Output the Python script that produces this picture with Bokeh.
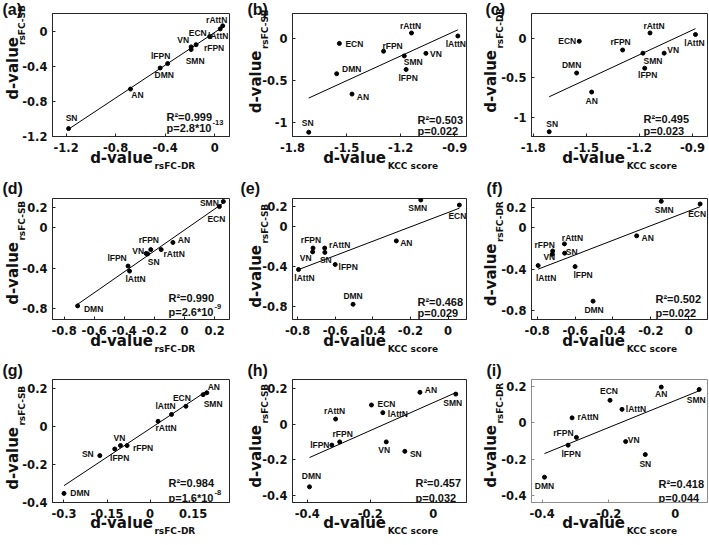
import math
import numpy as np
from bokeh.plotting import figure
from bokeh.models import ColumnDataSource, Label, FixedTicker, Range1d, LinearAxis, Title
from bokeh.layouts import gridplot
from bokeh.core.properties import value
from bokeh.embed import file_html
from bokeh.resources import INLINE

# ---------------- data ----------------
networks = ["SN", "AN", "DMN", "lFPN", "VN", "SMN", "rFPN", "ECN", "lAttN", "rAttN"]

# group 1 (panels a-c)
sb_1 = [-1.11, -0.66, -0.42, -0.37, -0.18, -0.21, -0.155, -0.063, 0.025, 0.06]
dr_1 = [-1.18, -0.68, -0.44, -0.38, -0.19, -0.19, -0.15, -0.04, 0.045, 0.065]
kcc_1 = [-1.71, -1.47, -1.555, -1.17, -1.06, -1.18, -1.295, -1.54, -0.883, -1.14]

# group 2 (panels d-f)
sb_2 = [-0.26, -0.146, -0.775, -0.38, -0.255, 0.26, -0.217, 0.21, -0.43, -0.217]
dr_2 = [-0.245, -0.077, -0.71, -0.375, -0.255, 0.258, -0.224, 0.232, -0.365, -0.155]
kcc_2 = [-0.655, -0.275, -0.505, -0.60, -0.72, -0.145, -0.718, 0.06, -0.795, -0.656]

# group 3 (panels g-i)
sb_3 = [-0.153, 0.178, -0.352, -0.118, -0.10, 0.168, -0.10, 0.107, 0.064, 0.028]
dr_3 = [-0.175, 0.198, -0.30, -0.123, -0.103, 0.185, -0.08, 0.125, 0.075, 0.028]
kcc_3 = [-0.09, -0.042, -0.393, -0.322, -0.149, 0.072, -0.297, -0.196, -0.16, -0.31]

panel_letters = ["(a)", "(b)", "(c)", "(d)", "(e)", "(f)", "(g)", "(h)", "(i)"]
r2_values = ["0.999", "0.503", "0.495", "0.990", "0.468", "0.502", "0.984", "0.457", "0.418"]
p_values = ["2.8*10", "0.022", "0.023", "2.6*10", "0.029", "0.022", "1.6*10", "0.032", "0.044"]
p_exponents = ["-13", "", "", "-9", "", "", "-8", "", ""]

x_ticks_a = [-1.2, -0.8, -0.4, 0]
x_tick_labels_a = ["-1.2", "-0.8", "-0.4", "0"]
y_ticks_a = [-1.2, -0.8, -0.4, 0]
y_tick_labels_a = ["-1.2", "-0.8", "-0.4", "0"]
x_ticks_kcc1 = [-1.8, -1.5, -1.2, -0.9]
x_tick_labels_kcc1 = ["-1.8", "-1.5", "-1.2", "-0.9"]
y_ticks_bc = [-1, -0.5, 0]
y_tick_labels_bc = ["-1", "-0.5", "0"]
x_ticks_d = [-0.8, -0.6, -0.4, -0.2, 0, 0.2]
x_tick_labels_d = ["-0.8", "-0.6", "-0.4", "-0.2", "0", "0.2"]
y_ticks_def = [-0.8, -0.4, 0, 0.2]
y_tick_labels_def = ["-0.8", "-0.4", "0", "0.2"]
x_ticks_kcc2 = [-0.8, -0.6, -0.4, -0.2, 0]
x_tick_labels_kcc2 = ["-0.8", "-0.6", "-0.4", "-0.2", "0"]
x_ticks_g = [-0.3, -0.15, 0, 0.15]
x_tick_labels_g = ["-0.3", "-0.15", "0", "0.15"]
y_ticks_ghi = [-0.4, -0.2, 0, 0.2]
y_tick_labels_ghi = ["-0.4", "-0.2", "0", "0.2"]
x_ticks_kcc3 = [-0.4, -0.2, 0]
x_tick_labels_kcc3 = ["-0.4", "-0.2", "0"]

# ---------------- layout (page pixels) ----------------
CELL_X = [0, 236, 470, 708]
BL = [52, 56, 61]
FW = [177, 174, 176]
CELL_Y = [0, 179, 362, 544]
BT = [13, 19, 17]
FH = [123, 121, 123]
LETTER_STANDOFF = [-8, -1, -3]

TICK_FONT = "DejaVu Sans"
AX_FONT = "DejaVu Sans"
LBL_FONT = "Liberation Sans"
TICK_SIZE = 11.5
AX_MAIN = 15
AX_SUB = 9
HGT, ASC, DSC = 1.164, 0.928, 0.236     # DejaVu Sans line box / ascent / descent (em)
PAD = 3                                  # extra space bokeh adds to every axis band
DJB = {"d": .716, "-": .415, "v": .652, "a": .675, "l": .343, "u": .712, "e": .678,
       "r": .493, "s": .595, "F": .683, "C": .734, "D": .830, "R": .770, "S": .720,
       "B": .762, "K": .775, "c": .593, "o": .687, " ": .348, "0": .696, "1": .696,
       "2": .696, "4": .696, "5": .696, "8": .696, ".": .380}


def text_w(s, size):
    return sum(DJB.get(ch, 0.65) for ch in s) * size


X_JUNCTION = [153, 386, 625]     # page x where "d-value" (x label) ends
X_BASE = [30, 30, 29.5]          # px below frame: baseline of x "d-value"
X_SUB_DROP = 6.5
Y_BASE = [34.5, 32, 36]          # px left of frame: baseline of rotated "d-value"
Y_SUB_SHIFT = 7.5
X_TICK_STANDOFF = 6
Y_TICK_STANDOFF = 5

panels = [
    dict(x=dr_1, y=sb_1, xs="rsFC-DR", ys="rsFC-SB", xr=(-1.31, 0.12), yr=(-1.2, 0.2),
         xt=(x_ticks_a, x_tick_labels_a), yt=(y_ticks_a, y_tick_labels_a),
         yj=36, lx=2, stats=(166, 116, 127),
         off=[(3, -11), (7, 6), (4, 7), (-7, -8), (-8, -7), (4, 11), (18, 3), (-12, -4), (-2, 7), (-6, -6)]),
    dict(x=kcc_1, y=sb_1, xs="KCC score", ys="rsFC-SB", xr=(-1.8, -0.835), yr=(-1.16, 0.29),
         xt=(x_ticks_kcc1, x_tick_labels_kcc1), yt=(y_ticks_bc, y_tick_labels_bc),
         yj=49.5, lx=247, stats=(417, 119, 130),
         off=[(-1, -9), (11, 3), (15, -5), (2, 9), (10, 1), (9, 6), (9, -5), (15, 1), (-2, 8), (-1, -7)]),
    dict(x=kcc_1, y=dr_1, xs="KCC score", ys="rsFC-DR", xr=(-1.81, -0.815), yr=(-1.24, 0.31),
         xt=(x_ticks_kcc1, x_tick_labels_kcc1), yt=(y_ticks_bc, y_tick_labels_bc),
         yj=49, lx=485, stats=(643, 118, 130),
         off=[(3, -8), (0, 9), (-5, -8), (3, 7), (9, -3), (10, 8), (-2, -8), (-12, 0), (-1, 8), (4, -7)]),
    dict(x=dr_2, y=sb_2, xs="rsFC-DR", ys="rsFC-SB", xr=(-0.877, 0.299), yr=(-0.91, 0.29),
         xt=(x_ticks_d, x_tick_labels_d), yt=(y_ticks_def, y_tick_labels_def),
         yj=241, lx=2, stats=(168, 297, 311),
         off=[(6, 8), (11, -2), (16, 3), (-11, -8), (-8, -2), (-14, 1), (-2, -10), (-3, 12), (6, 8), (13, 4)]),
    dict(x=kcc_2, y=sb_2, xs="KCC score", ys="rsFC-SB", xr=(-0.827, 0.098), yr=(-0.926, 0.275),
         xt=(x_ticks_kcc2, x_tick_labels_kcc2), yt=(y_ticks_def, y_tick_labels_def),
         yj=244, lx=240, stats=(417, 301, 312),
         off=[(1, 8), (10, 2), (0, -8), (13, 3), (-7, 6), (-3, 8), (-2, -8), (-2, 11), (6, 8), (15, -3)]),
    dict(x=kcc_2, y=dr_2, xs="KCC score", ys="rsFC-DR", xr=(-0.83, 0.099), yr=(-0.888, 0.285),
         xt=(x_ticks_kcc2, x_tick_labels_kcc2), yt=(y_ticks_def, y_tick_labels_def),
         yj=242.5, lx=486, stats=(655, 298, 312),
         off=[(7, -1), (11, 2), (1, 9), (8, 8), (-3, 3), (3, 9), (-8, -6), (-3, 10), (8, 12), (8, -6)]),
    dict(x=dr_3, y=sb_3, xs="rsFC-DR", ys="rsFC-SB", xr=(-0.34, 0.277), yr=(-0.4, 0.248),
         xt=(x_ticks_g, x_tick_labels_g), yt=(y_ticks_ghi, y_tick_labels_ghi),
         yj=426, lx=2, stats=(168, 482, 497),
         off=[(-12, -2), (7, -6), (16, 0), (5, 9), (-1, -8), (10, 9), (16, 2), (-4, -8), (-6, -8), (8, 7)]),
    dict(x=kcc_3, y=sb_3, xs="KCC score", ys="rsFC-SB", xr=(-0.447, 0.106), yr=(-0.44, 0.25),
         xt=(x_ticks_kcc3, x_tick_labels_kcc3), yt=(y_ticks_ghi, y_tick_labels_ghi),
         yj=424, lx=247, stats=(415, 482, 497),
         off=[(11, 3), (11, -2), (2, -11), (-12, 0), (-2, 8), (-3, 9), (3, -8), (15, -1), (15, 1), (-1, -8)]),
    dict(x=kcc_3, y=dr_3, xs="KCC score", ys="rsFC-DR", xr=(-0.432, 0.097), yr=(-0.44, 0.24),
         xt=(x_ticks_kcc3, x_tick_labels_kcc3), yt=(y_ticks_ghi, y_tick_labels_ghi),
         yj=424, lx=486, stats=(658, 483, 497),
         off=[(0, 9), (0, 7), (0, 9), (3, 9), (8, -2), (-3, 11), (-13, -4), (-1, -9), (14, 0), (16, -1)]),
]


def style_labels(ax, font, size):
    ax.major_label_text_font = font
    ax.major_label_text_font_style = "bold"
    ax.major_label_text_font_size = f"{size}px"
    ax.major_label_text_color = "#111111"
    ax.major_label_text_line_height = 1.0


def label_axis(p, side, tick, text, size, standoff, vertical=False):
    ax = LinearAxis(ticker=FixedTicker(ticks=[tick]), major_label_overrides={tick: text},
                    major_label_standoff=int(standoff), major_tick_in=0, major_tick_out=0,
                    minor_tick_in=0, minor_tick_out=0, axis_line_color=None,
                    major_tick_line_color=None, minor_tick_line_color=None)
    style_labels(ax, AX_FONT, size)
    if vertical:
        ax.major_label_orientation = "vertical"
    p.add_layout(ax, side)


figs = []
for k, spec in enumerate(panels):
    r, c = divmod(k, 3)
    cw = CELL_X[c + 1] - CELL_X[c]
    ch = CELL_Y[r + 1] - CELL_Y[r]
    bl, fw = BL[c], FW[c]
    br = cw - bl - fw
    bt, fh = BT[r], FH[r]
    bb = ch - bt - fh
    fl = CELL_X[c] + bl          # frame left (page px)
    ftop = CELL_Y[r] + bt        # frame top (page px)
    fbot = ftop + fh
    x0, x1 = spec["xr"]
    y0, y1 = spec["yr"]

    def xdata(page_x):
        return x0 + (page_x - fl) / fw * (x1 - x0)

    def ydata(page_y):
        return y0 + (fbot - page_y) / fh * (y1 - y0)

    frame_col = "#8c8c8c" if k == 8 else "#262626"
    p = figure(width=cw, height=ch, x_range=Range1d(x0, x1), y_range=Range1d(y0, y1),
               output_backend="svg", toolbar_location=None, tools="",
               min_border_left=bl, min_border_right=br, min_border_top=bt, min_border_bottom=bb)
    p.background_fill_color = "white"
    p.border_fill_color = "white"
    p.outline_line_color = frame_col
    p.outline_line_width = 1
    p.grid.visible = False

    for ax, (ticks, labels) in ((p.xaxis[0], spec["xt"]), (p.yaxis[0], spec["yt"])):
        ax.ticker = FixedTicker(ticks=ticks)
        ax.major_label_overrides = {t: l for t, l in zip(ticks, labels)}
        style_labels(ax, TICK_FONT, TICK_SIZE)
        ax.major_tick_in = 3
        ax.major_tick_out = 0
        ax.minor_tick_in = 0
        ax.minor_tick_out = 0
        ax.major_tick_line_color = frame_col
        ax.axis_line_color = frame_col
    p.xaxis[0].major_label_standoff = X_TICK_STANDOFF
    p.yaxis[0].major_label_standoff = Y_TICK_STANDOFF

    # ---- x-axis label "d-value" + subscript (extra label axes below) ----
    jx = X_JUNCTION[c]
    w_main = text_w("d-value", AX_MAIN)
    w_sub = text_w(spec["xs"], AX_SUB)
    band_a = X_TICK_STANDOFF + HGT * TICK_SIZE + PAD
    s_b = round(X_BASE[r] - ASC * AX_MAIN - band_a)
    band_b = s_b + HGT * AX_MAIN + PAD
    s_c = math.floor(X_BASE[r] + X_SUB_DROP - ASC * AX_SUB - (band_a + band_b))
    label_axis(p, "below", xdata(jx - 0.5 - w_main / 2), "d-value", AX_MAIN, s_b)
    label_axis(p, "below", xdata(jx + 1 + w_sub / 2), spec["xs"], AX_SUB, s_c)

    # ---- y-axis label (rotated) ----
    jy = spec["yj"]
    w_sub_y = text_w(spec["ys"], AX_SUB)
    ya = Y_TICK_STANDOFF + max(text_w(t, TICK_SIZE) for t in spec["yt"][1]) + PAD
    s_yb = round(Y_BASE[c] - Y_SUB_SHIFT - DSC * AX_SUB - ya)
    band_yb = s_yb + HGT * AX_SUB + PAD
    s_yc = math.floor(Y_BASE[c] - DSC * AX_MAIN - (ya + band_yb))
    label_axis(p, "left", ydata(jy - 1 - w_sub_y / 2), spec["ys"], AX_SUB, s_yb, vertical=True)
    label_axis(p, "left", ydata(jy + 0.5 + w_main / 2), "d-value", AX_MAIN, s_yc, vertical=True)

    # ---- panel letter ----
    t = Title(text=panel_letters[k], align="left", offset=spec["lx"] - fl,
              standoff=LETTER_STANDOFF[r], vertical_align="bottom" if r == 0 else "top")
    t.text_font = LBL_FONT
    t.text_font_size = "16px"
    t.text_font_style = "bold"
    t.text_color = "#111111"
    t.text_line_height = 1.0
    p.add_layout(t, "above")

    # ---- data ----
    x = np.array(spec["x"], dtype=float)
    y = np.array(spec["y"], dtype=float)
    slope, icpt = np.polyfit(x, y, 1)
    xl = np.array([x.min(), x.max()])
    p.line(xl, slope * xl + icpt, line_color="black", line_width=1)

    src = ColumnDataSource(dict(x=x, y=y, name=networks,
                                dx=[o[0] for o in spec["off"]],
                                dy=[o[1] for o in spec["off"]]))
    p.scatter("x", "y", source=src, size=4, color="black")
    p.text(x="x", y="y", text="name", x_offset="dx", y_offset="dy", source=src,
           text_font=value(LBL_FONT), text_font_style="bold", text_font_size="8.5px",
           text_align="center", text_baseline="middle", text_color="#111111")

    # ---- statistics (inside frame) ----
    def lab(xp, yp, text, size):
        p.add_layout(Label(x=xp - fl, y=fbot - yp, x_units="screen", y_units="screen",
                           text=text, text_font=LBL_FONT, text_font_style="bold",
                           text_font_size=size, text_align="left",
                           text_baseline="alphabetic", text_color="#111111"))

    stx, r2y, pyy = spec["stats"]
    lab(stx, r2y, "R\u00b2=" + r2_values[k], "11px")
    lab(stx, pyy, "p=" + p_values[k], "11px")
    if p_exponents[k]:
        lab(stx + 46, pyy - 5, p_exponents[k], "7.5px")

    figs.append(p)

grid = gridplot([figs[0:3], figs[3:6], figs[6:9]], toolbar_location=None)

open("out.html", "w").write(file_html(grid, INLINE))
